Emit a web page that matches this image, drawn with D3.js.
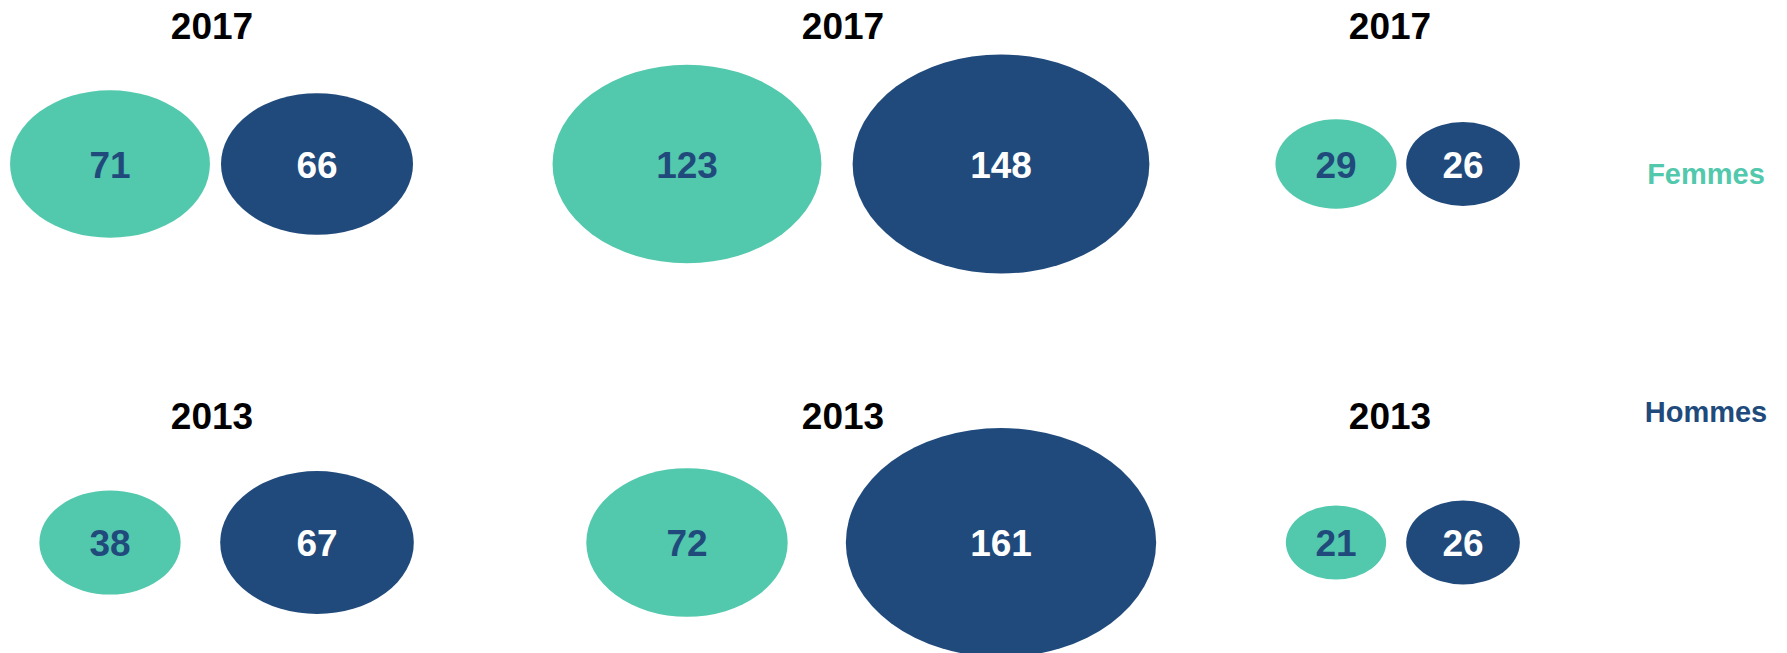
<!DOCTYPE html>
<html>
<head>
<meta charset="utf-8">
<script src="https://cdn.jsdelivr.net/npm/d3@7"></script>
<style>
  body { margin: 0; background: #fff; }
  svg { display: block; }
  text { font-family: "Liberation Sans", Arial, sans-serif; font-weight: bold; }
</style>
</head>
<body>
<div id="canvas"></div>
<script>
"use strict"

/* Data */
let years = ["2017", "2013"];
let groups = ["Femmes", "Hommes"];
let femmes2017 = [71, 123, 29];
let hommes2017 = [66, 148, 26];
let femmes2013 = [38, 72, 21];
let hommes2013 = [67, 161, 26];

let valuesByYear = {
    "2017": {Femmes: femmes2017, Hommes: hommes2017},
    "2013": {Femmes: femmes2013, Hommes: hommes2013}
};

/* Drawing config */
let svgWidth = 1787;
let svgHeight = 653;
let teal = "#52c8ac";
let navy = "#214a7c";

let rowY = {"2017": 164, "2013": 542.5};
let titleY = {"2017": 39, "2013": 429};
let panelRanges = [[110, 317], [687, 1001], [1336, 1463]];
let titleX = [212, 843, 1390];
let stretch = 1.355;

let svg = d3.select("#canvas")
    .append("svg")
    .attr("width", svgWidth)
    .attr("height", svgHeight);

/* build flat table */
let table = [];
years.forEach(function (year) {
    groups.forEach(function (g) {
        valuesByYear[year][g].forEach(function (v, i) {
            table.push({year: year, group: g, panel: i, value: v});
        });
    });
});

/* radius scale (vertical radius), ellipses are stretched horizontally */
let rScale = d3.scaleSqrt()
    .domain(d3.extent(table, d => d.value))
    .range([37, 114.5]);

let xScales = panelRanges.map(function (r) {
    return d3.scalePoint().domain(groups).range(r);
});

let colorScale = d3.scaleOrdinal().domain(groups).range([teal, navy]);
let labelColor = d3.scaleOrdinal().domain(groups).range([navy, "#ffffff"]);

/* year titles */
years.forEach(function (year) {
    titleX.forEach(function (x) {
        svg.append("text")
            .attr("x", x)
            .attr("y", titleY[year])
            .attr("text-anchor", "middle")
            .style("font-size", "37px")
            .style("fill", "#000")
            .text(year);
    });
});

/* bubbles */
svg.selectAll("ellipse")
    .data(table)
    .join("ellipse")
    .attr("cx", d => xScales[d.panel](d.group))
    .attr("cy", d => rowY[d.year])
    .attr("ry", d => rScale(d.value))
    .attr("rx", d => rScale(d.value) * stretch)
    .attr("fill", d => colorScale(d.group));

svg.selectAll("text.value")
    .data(table)
    .join("text")
    .classed("value", true)
    .attr("x", d => xScales[d.panel](d.group))
    .attr("y", d => rowY[d.year] + 13.5)
    .attr("text-anchor", "middle")
    .style("font-size", "37px")
    .style("fill", d => labelColor(d.group))
    .text(d => d.value);

/* legend */
let legendY = {Femmes: 184, Hommes: 422};
groups.forEach(function (g) {
    svg.append("text")
        .attr("x", 1706)
        .attr("y", legendY[g])
        .attr("text-anchor", "middle")
        .style("font-size", "29px")
        .style("fill", colorScale(g))
        .text(g);
});
</script>
</body>
</html>
